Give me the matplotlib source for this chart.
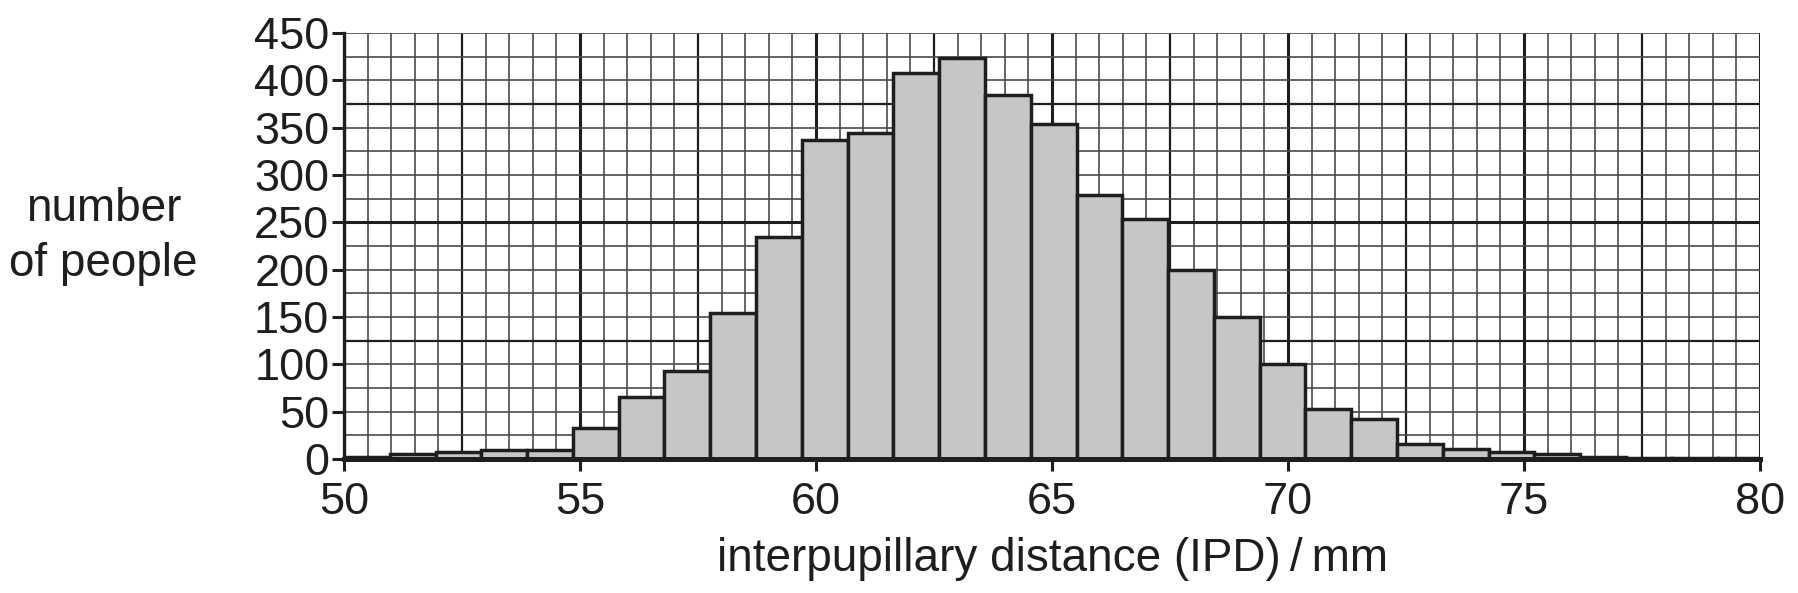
import matplotlib.pyplot as plt
import numpy as np

plt.rcParams['font.family'] = ['Liberation Sans', 'DejaVu Sans']

# counts per bin (bins ~0.97 mm wide starting at 50 mm)
counts = [2, 5, 7, 10, 10, 33, 66, 93, 154, 235, 337, 344, 408, 424, 384,
          354, 279, 253, 200, 150, 100, 53, 42, 16, 11, 7, 5, 2, 1, 1, 1]
bin_width = 0.97
x_start = 50
x_ticks = [50, 55, 60, 65, 70, 75, 80]
y_ticks = [0, 50, 100, 150, 200, 250, 300, 350, 400, 450]

ink = '#1e1e1e'
fig = plt.figure(figsize=(17.98, 5.93), dpi=100)
ax = fig.add_axes([0.1913, 0.2260, 0.7876, 0.7184])

# graph paper grid
for gx in np.arange(50, 80.01, 0.5):
    if gx % 5 == 0:
        ax.axvline(gx, color=ink, lw=2.2, zorder=1)
    elif gx % 2.5 == 0:
        ax.axvline(gx, color=ink, lw=1.6, zorder=1)
    else:
        ax.axvline(gx, color='#4a4a4a', lw=1.2, zorder=1)
for gy in np.arange(0, 451, 25):
    if gy % 250 == 0:
        ax.axhline(gy, color=ink, lw=2.2, zorder=1)
    elif gy % 125 == 0:
        ax.axhline(gy, color=ink, lw=1.6, zorder=1)
    else:
        ax.axhline(gy, color='#4a4a4a', lw=1.2, zorder=1)

lefts = x_start + bin_width * np.arange(len(counts))
ax.bar(lefts, counts, width=bin_width, align='edge', color='#c6c6c5',
       edgecolor=ink, linewidth=2.5, zorder=3)

ax.set_xlim(50, 80)
ax.set_ylim(0, 450)
ax.set_xticks(x_ticks)
ax.set_yticks(y_ticks)
ax.tick_params(axis='both', colors=ink, labelsize=32.5, width=2.2, length=8.5)
ax.tick_params(axis='y', pad=2)
ax.tick_params(axis='x', pad=8)

for side in ['top', 'right']:
    ax.spines[side].set_visible(False)
ax.spines['left'].set_linewidth(2.4)
ax.spines['left'].set_color(ink)
ax.spines['bottom'].set_linewidth(3.6)
ax.spines['bottom'].set_color(ink)
ax.spines['bottom'].set_zorder(4)

fig.text(0.0575, 0.601, 'number\nof people', ha='center', va='center',
         fontsize=33, color=ink, linespacing=1.33)
ax.set_xlabel('interpupillary distance (IPD)\u2009/\u2009mm', fontsize=33,
              color=ink, labelpad=10)

fig.savefig('out.png', dpi=100)
